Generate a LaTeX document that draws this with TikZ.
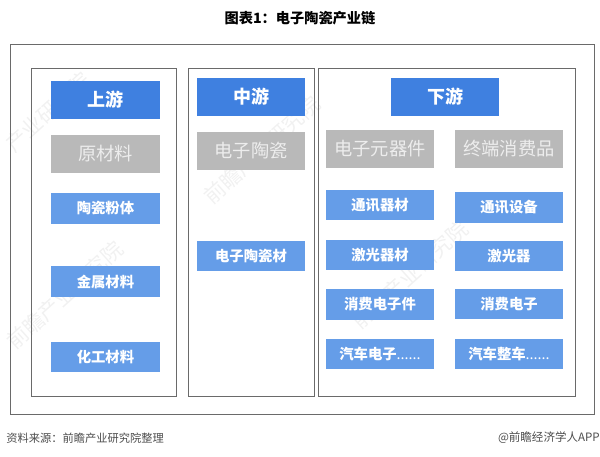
\documentclass[tikz,border=0pt]{standalone}
\usepackage{fontspec}
\setmainfont{Noto Sans CJK SC}
\definecolor{headblue}{HTML}{3F80E0}
\definecolor{itemblue}{HTML}{659DE8}
\definecolor{boxgrey}{HTML}{B9B9B9}
\definecolor{greytext}{HTML}{EDEDED}
\definecolor{framegrey}{HTML}{6A6A6A}
\definecolor{markgrey}{HTML}{F1F1F1}
\tikzset{
	headbox/.style={fill=headblue,text=white,minimum width=2.72cm,minimum height=0.95cm,inner sep=0pt,font=\bfseries\fontsize{12.8}{14}\selectfont},
	groupbox/.style={fill=boxgrey,text=greytext,minimum width=2.72cm,minimum height=0.95cm,inner sep=0pt,font=\fontsize{13}{14}\selectfont},
	itembox/.style={fill=itemblue,text=white,minimum width=2.72cm,minimum height=0.77cm,inner sep=0pt,font=\bfseries\fontsize{10.2}{12}\selectfont},
	panel/.style={draw=framegrey,line width=0.6pt},
	footer/.style={text=black!70,inner sep=0pt},
	watermark/.style={text=markgrey,rotate=42,inner sep=0pt,font=\fontsize{15}{18}\selectfont}
}
\begin{document}
\begin{tikzpicture}[x=0.025cm,y=-0.025cm]
	\useasboundingbox (0,0) rectangle (600,456);
	%Title
	\node [font=\bfseries\fontsize{10.1}{12}\selectfont,inner sep=0pt] (title) at (300,18) {图表1：电子陶瓷产业链};
	%Watermarks behind everything
	\node [watermark] (mark1) at (65,295) {前瞻产业研究院};
	\node [watermark] (mark2) at (262,150) {前瞻产业研究院};
	\node [watermark] (mark3) at (410,275) {前瞻产业研究院};
	\node [watermark] (mark4) at (48,112) {产业研究院};
	%Outer frame
	\draw [panel] (10,44) rectangle (594,414);
	%The three panels
	\draw [panel] (31,68) rectangle (176,396);
	\draw [panel] (188,68) rectangle (314,396);
	\draw [panel] (318,68) rectangle (575,396);
	%Upstream column
	\node [headbox] (up) at (105.5,100) {上游};
	\node [groupbox] (upgroup) at (105.5,154) {原材料};
	\node [itembox] (upitem1) at (105.5,208.5) {陶瓷粉体};
	\node [itembox] (upitem2) at (105.5,281.5) {金属材料};
	\node [itembox] (upitem3) at (105.5,357) {化工材料};
	%Midstream column
	\node [headbox] (mid) at (251,97) {中游};
	\node [groupbox] (midgroup) at (251,151) {电子陶瓷};
	\node [itembox] (miditem1) at (251,256) {电子陶瓷材};
	%Downstream head
	\node [headbox] (down) at (445,97) {下游};
	%Downstream left column
	\node [groupbox] (compgroup) at (380,148.5) {电子元器件};
	\node [itembox] (comp1) at (380,205) {通讯器材};
	\node [itembox] (comp2) at (380,255) {激光器材};
	\node [itembox] (comp3) at (380,304.5) {消费电子件};
	\node [itembox] (comp4) at (380,354) {汽车电子{\mdseries......}};
	%Downstream right column
	\node [groupbox] (usegroup) at (509,149) {终端消费品};
	\node [itembox] (use1) at (509,207.5) {通讯设备};
	\node [itembox] (use2) at (509,256) {激光器};
	\node [itembox] (use3) at (509,304) {消费电子};
	\node [itembox] (use4) at (509,354) {汽车整车{\mdseries......}};
	%Footer
	\node [footer,anchor=west,font=\fontsize{8}{10}\selectfont] (source) at (6,438) {资料来源：前瞻产业研究院整理};
	\node [footer,anchor=east,font=\fontsize{8.2}{10}\selectfont] (brand) at (600,438) {@前瞻经济学人APP};
\end{tikzpicture}
\end{document}
